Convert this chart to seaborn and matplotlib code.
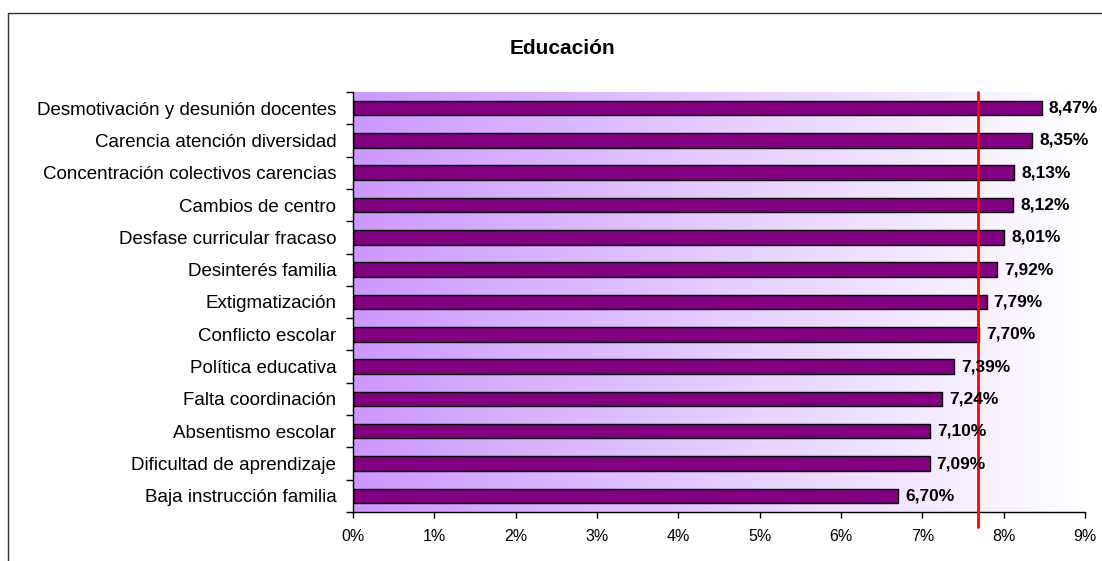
import numpy as np
import pandas as pd
import seaborn as sns
import matplotlib.pyplot as plt
from matplotlib.colors import LinearSegmentedColormap
from matplotlib.patches import Rectangle

categorias = ['Desmotivación y desunión docentes', 'Carencia atención diversidad',
              'Concentración colectivos carencias', 'Cambios de centro',
              'Desfase curricular fracaso', 'Desinterés familia', 'Extigmatización',
              'Conflicto escolar', 'Política educativa', 'Falta coordinación',
              'Absentismo escolar', 'Dificultad de aprendizaje', 'Baja instrucción familia']
valores = [8.47, 8.35, 8.13, 8.12, 8.01, 7.92, 7.79, 7.70, 7.39, 7.24, 7.10, 7.09, 6.70]
media = 7.69
x_ticks = [0, 1, 2, 3, 4, 5, 6, 7, 8, 9]

sns.set_style('white')
plt.rcParams['font.family'] = ['Liberation Sans', 'DejaVu Sans']
plt.rcParams['text.color'] = 'black'
plt.rcParams['xtick.color'] = 'black'
plt.rcParams['ytick.color'] = 'black'

df = pd.DataFrame({'categoria': categorias, 'valor': valores})

fig = plt.figure(figsize=(11.02, 5.61), dpi=100)
ax = fig.add_axes([353/1102, 1 - 512/561, (1085-353)/1102, (512-92)/561])

# fondo degradado
cmap = LinearSegmentedColormap.from_list('fondo', ['#CC99FF', '#FFFFFF'])
grad = np.linspace(0, 1, 256).reshape(1, -1)
ax.imshow(grad, cmap=cmap, aspect='auto', extent=[0, 9, len(categorias) - 0.5, -0.5], zorder=0)

sns.barplot(data=df, y='categoria', x='valor', orient='h', color='#800080',
            edgecolor='black', linewidth=1, width=0.45, saturation=1, ax=ax, zorder=2)

for i, v in enumerate(valores):
    ax.annotate(f'{v:.2f}%'.replace('.', ','), (v, i), xytext=(5, 0), textcoords='offset points',
                va='center', ha='left', fontsize=12.5, fontweight='bold', zorder=4)

ax.axvline(media, ymin=-0.036, ymax=1, color='#FF0000', lw=2, clip_on=False, zorder=3)

ax.set_xlim(0, 9)
ax.set_ylim(len(categorias) - 0.5, -0.5)
ax.set_xticks(x_ticks)
ax.set_xticklabels([f'{t}%' for t in x_ticks], fontsize=11.5)
ax.set_yticks(range(len(categorias)))
ax.set_yticklabels(categorias, fontsize=13.5)
ax.set_yticks(np.arange(-0.5, len(categorias)), minor=True)
ax.tick_params(axis='y', which='major', length=0, pad=12)
ax.tick_params(axis='y', which='minor', length=5, width=1, color='black', direction='out', left=True)
ax.tick_params(axis='x', length=4, width=1, color='black', direction='out', bottom=True, pad=8)
ax.set_xlabel('')
ax.set_ylabel('')
for s in ['top', 'right']:
    ax.spines[s].set_visible(False)
for s in ['left', 'bottom']:
    ax.spines[s].set_color('black')
    ax.spines[s].set_linewidth(1)

fig.text(0.51, 1 - 48/561, 'Educación', ha='center', va='center', fontsize=15, fontweight='bold')

fig.patches.append(Rectangle((8/1102, -0.1), 1.2, 1 - 13/561 + 0.1, transform=fig.transFigure,
                             fill=False, edgecolor='#333333', lw=1))

fig.savefig('out.png', dpi=100)
